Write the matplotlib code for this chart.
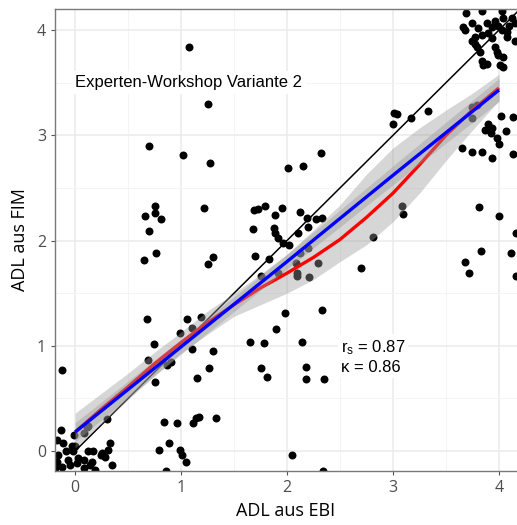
import matplotlib
matplotlib.use("Agg")
import matplotlib.pyplot as plt
import numpy as np

# ---------------- data ----------------
pts_x = [1.07, 1.25, 0.70, 1.02, 1.27, 0.75, 0.66, 0.75, 0.81, 0.70, 1.22, 1.69, 1.73, 1.79, 1.68,
         0.76, 0.65, 1.30, 1.25, 1.70, 1.83, 0.68, 1.06, 1.19, 1.10, 0.99, 0.74, 1.10, 0.69, 0.87,
         0.90, 0.75, 1.30, 1.26, 1.15, 1.65, 1.78, 1.90, 1.98, 1.75, 1.81, 2.14, 2.18, 2.18, 2.35,
         2.33, -0.12, 0.30, 0.12, 0.08, -0.13, 0.84, 0.96, 1.11, 1.14, 1.17, 1.33, 0.89, 0.79, 0.99,
         1.01, 1.05, 0.86, 2.05, 2.34,
         -0.17, -0.11, -0.03, -0.09, -0.16, -0.02, 0.03, -0.05, -0.12, 0.12, 0.17, 0.24, 0.33, 0.31,
         0.35, 0.14, 0.08, 0.19, -0.19, -0.01, 0.00, 0.02, -0.17, 0.08, 0.25, 0.28, 0.16, -0.07, 0.11,
         1.88, 1.89, 1.91, 1.96, 2.02, 2.10, 1.95, 2.12, 1.89, 2.19, 2.27, 2.33, 2.20, 2.32, 2.01,
         2.15, 3.01, 3.04, 3.00, 3.17, 3.33, 1.75, 1.91, 2.08, 2.12, 2.20, 2.29, 2.09, 2.09, 2.21,
         2.70, 2.81, 3.08, 3.09,
         3.68, 3.72, 4.16, 3.65, 3.75, 3.79, 3.75, 4.02, 4.13, 3.90, 3.87, 3.92, 3.98, 4.00, 4.07,
         3.93, 3.75, 3.84, 3.93, 4.13, 3.81, 4.00, 4.16, 3.83, 4.11,
         3.69, 3.84, 4.03, 3.75, 3.89, 3.96, 4.04, 4.12, 3.66, 3.68, 3.80, 3.93, 3.99, 4.09, 3.77,
         3.84, 3.90, 4.03, 4.08, 4.15, 4.08, 4.15, 3.93, 3.75, 3.77, 3.79, 3.82, 3.96, 3.98, 4.04,
         3.99, 3.84, 3.89, 4.01, 4.04, 3.85]
pts_y = [3.84, 3.30, 2.90, 2.81, 2.74, 2.33, 2.23, 2.26, 2.20, 2.09, 2.31, 2.29, 2.30, 2.33, 2.11,
         1.88, 1.81, 1.84, 1.78, 1.85, 1.82, 1.25, 1.25, 1.27, 1.17, 1.12, 1.02, 0.97, 0.86, 0.82,
         0.85, 0.66, 0.95, 0.79, 0.69, 1.04, 1.03, 1.16, 1.31, 0.79, 0.70, 1.04, 0.80, 0.68, 0.68,
         1.34, 0.77, 0.30, 0.24, 0.17, 0.20, 0.28, 0.27, 0.27, 0.31, 0.32, 0.31, 0.08, 0.01, 0.01,
         -0.04, -0.10, -0.19, -0.04, -0.19,
         0.10, 0.08, 0.05, 0.00, -0.04, 0.00, -0.07, -0.13, -0.15, 0.00, 0.00, -0.04, 0.08, 0.01,
         -0.13, -0.13, -0.16, -0.18, -0.16, 0.15, 0.05, -0.11, -0.10, -0.09, -0.02, -0.06, -0.10, -0.09, 0.23,
         2.12, 2.07, 2.02, 1.98, 1.96, 2.07, 2.31, 2.27, 2.24, 2.21, 2.20, 2.21, 2.13, 2.83, 2.69,
         2.71, 3.21, 3.20, 3.11, 3.16, 3.23, 1.66, 1.69, 1.79, 1.88, 1.93, 1.79, 1.69, 1.66, 1.65,
         1.74, 2.03, 2.33, 2.25,
         1.80, 1.69, 1.66, 2.88, 3.27, 3.29, 3.16, 3.18, 3.17, 3.11, 3.05, 3.02, 2.97, 2.92, 3.04,
         3.07, 2.84, 2.84, 2.78, 2.82, 2.32, 2.23, 2.07, 1.90, 1.88,
         4.16, 4.18, 4.18, 4.07, 4.07, 4.09, 4.11, 4.11, 4.03, 4.00, 4.02, 4.03, 4.04, 4.04, 3.93,
         3.95, 3.97, 4.00, 3.98, 4.07, 3.93, 3.90, 3.92, 3.90, 3.87, 3.84, 3.79, 3.84, 3.79, 3.74,
         3.76, 3.71, 3.68, 3.67, 3.65, 3.67]

# loess fit (red) with its confidence band
loess_x = [0, 0.25, 0.5, 0.75, 1.0, 1.25, 1.5, 1.75, 2.0, 2.25, 2.5, 2.75, 3.0, 3.25, 3.5, 3.75, 4.0]
loess_y = [0.18, 0.40, 0.61, 0.83, 1.03, 1.22, 1.39, 1.55, 1.69, 1.84, 2.01, 2.22, 2.45, 2.72, 3.00, 3.24, 3.45]
loess_hi = [0.36, 0.55, 0.74, 0.94, 1.13, 1.33, 1.50, 1.68, 1.87, 2.10, 2.34, 2.63, 2.88, 3.07, 3.24, 3.40, 3.58]
loess_lo = [0.03, 0.26, 0.49, 0.72, 0.93, 1.11, 1.28, 1.39, 1.50, 1.63, 1.80, 1.96, 2.18, 2.45, 2.76, 3.05, 3.33]

# linear fit (blue) with its confidence half-width
lin_x = [0, 1, 2, 3, 4]
lin_y = [0.18, 0.99, 1.80, 2.62, 3.43]
lin_hw = [0.09, 0.07, 0.07, 0.09, 0.11]

# identity line
ident = [0, 4.3]

title_text = "Experten-Workshop Variante 2"
stat_lines = ["r$_\\mathrm{s}$ = 0.87", "\u03ba = 0.86"]
ticks = [0, 1, 2, 3, 4]
tick_labels = ["0", "1", "2", "3", "4"]

# ---------------- plot ----------------
plt.rcParams['mathtext.fontset'] = 'custom'
plt.rcParams['mathtext.rm'] = 'Liberation Sans'
plt.rcParams['mathtext.it'] = 'Liberation Sans:italic'

fig = plt.figure(figsize=(5.17, 5.25), dpi=100)
ax = fig.add_axes([0.1064, 0.1029, 0.8936, 0.8800])

ax.set_xticks(ticks)
ax.set_xticklabels(tick_labels)
ax.set_yticks(ticks)
ax.set_yticklabels(tick_labels)
ax.set_xticks(np.arange(0.5, 4.1, 1.0), minor=True)
ax.set_yticks(np.arange(0.5, 4.1, 1.0), minor=True)
ax.grid(which='major', color='#EBEBEB', lw=1.1, zorder=0)
ax.grid(which='minor', color='#F3F3F3', lw=0.6, zorder=0)
ax.set_axisbelow(True)
ax.tick_params(which='minor', length=0)
ax.tick_params(which='major', length=3, color='#555555', width=0.8,
               labelsize=11.5, labelcolor='#4D4D4D')
for lab in ax.get_xticklabels() + ax.get_yticklabels():
    lab.set_family('Open Sans')

for s in ['left', 'bottom', 'top']:
    ax.spines[s].set_color('#7A7A7A')
    ax.spines[s].set_linewidth(1.0)
ax.spines['right'].set_visible(False)

ax.scatter(pts_x, pts_y, s=33, color='black', linewidths=0, zorder=2)
ax.plot(ident, ident, color='black', lw=1.1, zorder=2.5)

ax.fill_between(loess_x, loess_lo, loess_hi, color='#999999', alpha=0.4, lw=0, zorder=3)
ax.plot(loess_x, loess_y, color='#FF0000', lw=2.4, zorder=3.1,
        solid_capstyle='butt', solid_joinstyle='round')

bx = np.array(lin_x); by = np.array(lin_y); bh = np.array(lin_hw)
ax.fill_between(bx, by - bh, by + bh, color='#999999', alpha=0.4, lw=0, zorder=3.2)
ax.plot(bx, by, color='#0000FF', lw=2.4, zorder=3.3, solid_capstyle='butt')

ax.text(0.0, 3.5, title_text, fontsize=12, family='Liberation Sans', color='black',
        ha='left', va='center', zorder=5,
        bbox=dict(facecolor='white', edgecolor='none', pad=3))
ax.text(2.51, 0.895, stat_lines[0] + "\n" + stat_lines[1], fontsize=12,
        family='Liberation Sans', color='black', ha='left', va='center',
        linespacing=1.3, zorder=5,
        bbox=dict(facecolor='white', edgecolor='none', pad=2))

ax.set_xlabel("ADL aus EBI", fontsize=13, family='Open Sans', labelpad=4)
ax.set_ylabel("ADL aus FIM", fontsize=13, family='Open Sans', labelpad=6)

ax.set_xlim(-0.19, 4.17)
ax.set_ylim(-0.19, 4.20)

fig.savefig("out.png", dpi=100)
